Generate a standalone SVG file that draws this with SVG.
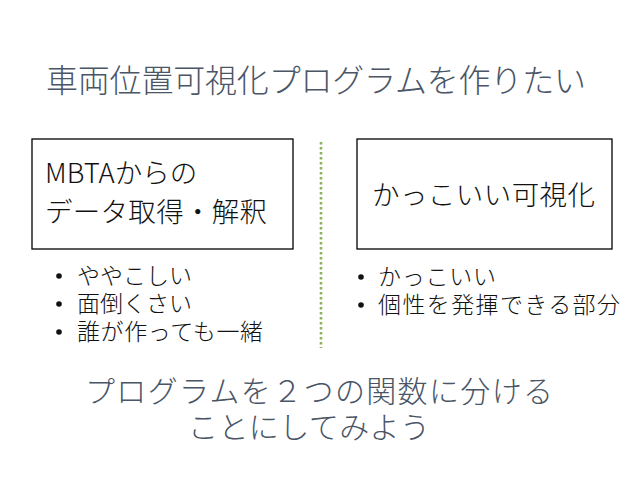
<svg xmlns="http://www.w3.org/2000/svg" width="638" height="479" viewBox="0 0 638 479">
  <style>
    .heading { font-family: "Noto Sans CJK JP", "Noto Sans", sans-serif; font-weight: 300; fill: #4a5566; font-size: 32px; }
    .concl { font-family: "Noto Sans CJK JP", "Noto Sans", sans-serif; font-weight: 300; fill: #4a5566; font-size: 30px; }
    .box { fill: #ffffff; stroke: #000000; stroke-width: 1.3; }
    .boxtext { font-family: "Noto Sans CJK JP", "Noto Sans", sans-serif; font-weight: 300; fill: #111111; font-size: 27.5px; }
    .bullet { font-family: "Noto Sans CJK JP", "Noto Sans", sans-serif; font-weight: 300; fill: #111111; font-size: 23px; }
    .dot { fill: #111111; }
    .divider { stroke: #8cb35c; stroke-width: 2.6; stroke-dasharray: 2.5 2.5; fill: none; }
  </style>
  <rect width="638" height="479" fill="#ffffff"/>

  <text id="title" class="heading" x="46" y="92" textLength="540">車両位置可視化プログラムを作りたい</text>

  <g id="connectors">
    <line class="divider" x1="321" y1="142" x2="321" y2="348"/>
  </g>

  <g id="node-data">
    <rect class="box" x="32" y="139" width="261" height="110"/>
    <text class="boxtext" x="45" y="183">MBTAからの</text>
    <text class="boxtext" x="45" y="222" textLength="222">データ取得・解釈</text>
  </g>

  <g id="node-vis">
    <rect class="box" x="357" y="139" width="255" height="110"/>
    <text class="boxtext" x="372" y="205" textLength="223">かっこいい可視化</text>
  </g>

  <g id="bullets-left">
    <circle class="dot" cx="59" cy="276" r="2.8"/>
    <text class="bullet" x="77" y="284" textLength="115">ややこしい</text>
    <circle class="dot" cx="59" cy="304" r="2.8"/>
    <text class="bullet" x="77" y="312" textLength="115">面倒くさい</text>
    <circle class="dot" cx="59" cy="332" r="2.8"/>
    <text class="bullet" x="77" y="340" textLength="186">誰が作っても一緒</text>
  </g>

  <g id="bullets-right">
    <circle class="dot" cx="361" cy="277" r="2.8"/>
    <text class="bullet" x="378" y="285" textLength="118">かっこいい</text>
    <circle class="dot" cx="361" cy="305" r="2.8"/>
    <text class="bullet" x="378" y="313" textLength="242">個性を発揮できる部分</text>
  </g>

  <g id="conclusion">
    <text class="concl" x="85" y="402" textLength="468">プログラムを２つの関数に分ける</text>
    <text class="concl" x="188" y="438" textLength="242">ことにしてみよう</text>
  </g>
</svg>
